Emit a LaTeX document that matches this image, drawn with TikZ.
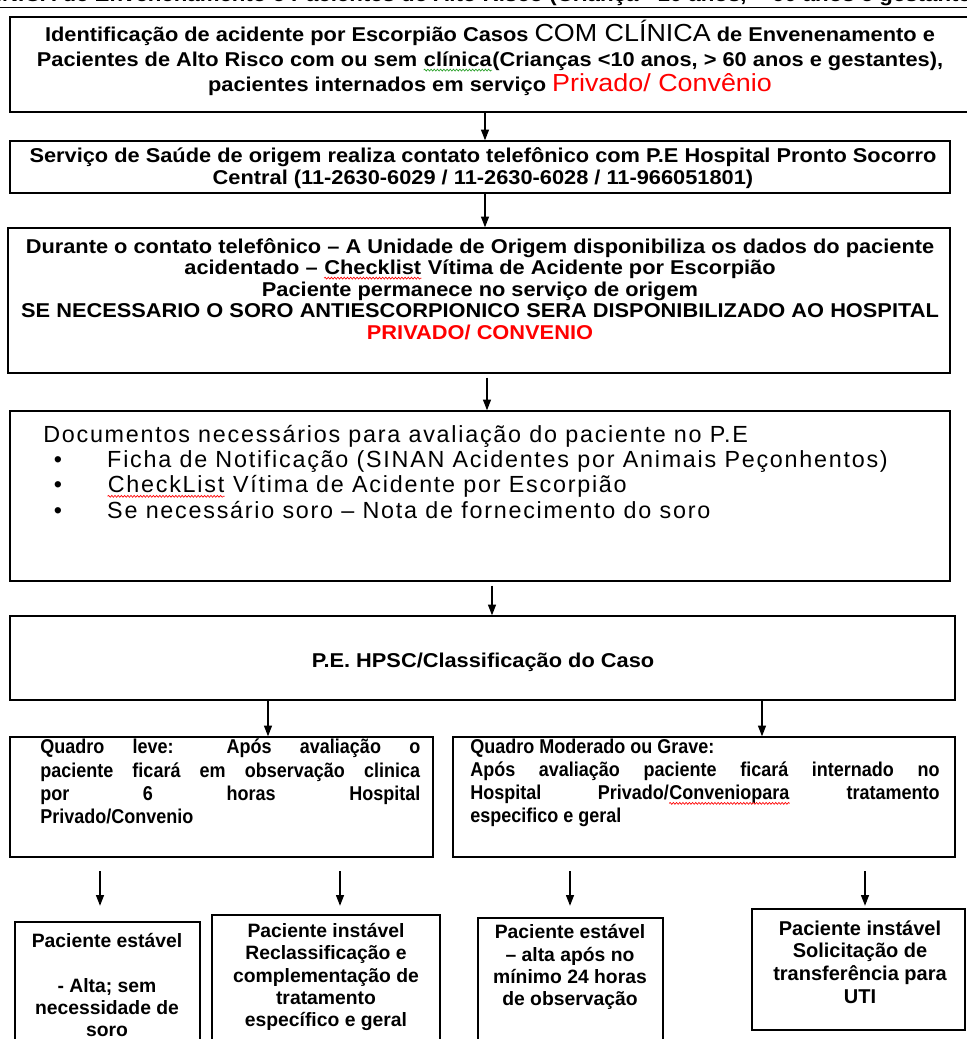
\documentclass[tikz,border=0pt]{standalone}
\usepackage{fontspec}
\setmainfont{Liberation Sans}
\newfontfamily\largafont[FakeStretch=1.09]{Liberation Sans}
\newfontfamily\estreitafont[FakeStretch=0.9]{Liberation Sans}
\newfontfamily\docfont[LetterSpace=7.5]{Liberation Sans}
\usetikzlibrary{positioning, fit, arrows.meta, decorations.pathmorphing}
\definecolor{alerta}{RGB}{255,0,0}
\definecolor{revisao}{RGB}{40,160,40}
\newcommand\onda[2]{\tikz[baseline=(w.base)]{%
  \node[inner sep=0pt, text width=, align=none] (w) {#2};
  \draw[#1, line width=0.5pt, decorate, decoration={snake, amplitude=0.7pt, segment length=2.4pt}]
    ([yshift=-2.6pt]w.base west) -- ([yshift=-2.6pt]w.base east);}}
\tikzset{
  box/.style={
    draw, line width=1.1pt,
    inner sep=0pt,
    fit={#1},
  },
  txt/.style={
    inner sep=0pt, align=center,
    font=\largafont\bfseries\fontsize{15}{16.5}\selectfont,
  },
  bloco/.style={
    inner sep=0pt, align=justify,
    text width=#1,
    font=\estreitafont\bfseries\fontsize{15}{17.3}\selectfont,
  },
  saida/.style={
    inner sep=0pt, align=center,
    font=\bfseries\fontsize{14.5}{16.6}\selectfont,
  },
  arr/.style={
    line width=0.9pt,
    -{Triangle[length=8pt, width=6pt]},
  },
}

\begin{document}
\begin{tikzpicture}[x=0.75pt, y=-0.75pt]
\useasboundingbox (0,0) rectangle (967,1039);
\clip (0,0) rectangle (967,1039);

\node[anchor=base west, font=\largafont\bfseries\fontsize{15.3}{16}\selectfont, inner sep=0pt] (titulo) at (-34, 1)
  {\underline{CLÍNICA de Envenenamento e Pacientes de Alto Risco (Criança <10 anos, > 60 anos e gestantes)}};

\node[box={(10,17)(985,112)}] (ident) {};
\node[box={(10,141)(950,193)}] (contato) {};
\node[box={(8,228)(950,373)}] (dados) {};
\node[box={(10,411)(950,581)}] (docs) {};
\node[box={(10,616)(955,700)}] (classe) {};
\node[box={(10,737)(433,857)}] (leve) {};
\node[box={(453,737)(955,857)}] (grave) {};
\node[box={(15,922)(200,1060)}] (s1) {};
\node[box={(212,915)(440,1060)}] (s2) {};
\node[box={(478,918)(663,1060)}] (s3) {};
\node[box={(752,909)(965,1030)}] (s4) {};

\node[txt, font=\largafont\bfseries\fontsize{15}{18.8}\selectfont] (t-ident) at (490, 58) {%
  Identificação de acidente por Escorpião Casos {\mdseries\fontsize{18.5}{18.8}\selectfont COM CLÍNICA} de Envenenamento e\\
  Pacientes de Alto Risco com ou sem \onda{revisao}{clínica}(Crianças <10 anos, > 60 anos e gestantes),\\
  pacientes internados em serviço {\mdseries\fontsize{18.5}{18.8}\selectfont\color{alerta}Privado/ Convênio}};
\node[txt] (t-contato) at (483, 168) {%
  Serviço de Saúde de origem realiza contato telefônico com P.E Hospital Pronto Socorro\\
  Central (11-2630-6029 / 11-2630-6028 / 11-966051801)};
\node[txt, font=\largafont\bfseries\fontsize{15}{16.2}\selectfont] (t-dados) at (480, 289) {%
  Durante o contato telefônico – A Unidade de Origem disponibiliza os dados do paciente\\
  acidentado – \onda{alerta}{Checklist} Vítima de Acidente por Escorpião\\
  Paciente permanece no serviço de origem\\
  SE NECESSARIO O SORO ANTIESCORPIONICO SERA DISPONIBILIZADO AO HOSPITAL\\
  {\color{alerta}PRIVADO/ CONVENIO}};
\node[inner sep=0pt, anchor=north west, align=left,
  font=\docfont\fontsize{17.5}{18.9}\selectfont] (t-docs) at (43, 425) {%
  Documentos necessários para avaliação do paciente no P.E\\
  \makebox[48pt][l]{\hspace{8pt}\textbullet}Ficha de Notificação (SINAN Acidentes por Animais Peçonhentos)\\
  \makebox[48pt][l]{\hspace{8pt}\textbullet}\onda{alerta}{CheckList} Vítima de Acidente por Escorpião\\
  \makebox[48pt][l]{\hspace{8pt}\textbullet}Se necessário soro – Nota de fornecimento do soro};
\node[txt] (t-classe) at (483, 662) {P.E. HPSC/Classificação do Caso};
\node[bloco=285pt, anchor=north west] (t-leve) at (40, 739) {%
  Quadro leve: Após avaliação o\linebreak
  paciente ficará em observação clinica\linebreak
  por 6 horas Hospital\linebreak
  Privado/Convenio};
\node[bloco=352pt, anchor=north west] (t-grave) at (470, 739) {%
  Quadro Moderado ou Grave:\\
  Após avaliação paciente ficará internado no\linebreak
  Hospital Privado/\onda{alerta}{Conveniopara} tratamento\linebreak
  especifico e geral};

\node[saida] (t-s1) at (107, 985) {Paciente estável\\[16.6pt]- Alta; sem\\necessidade de\\soro};
\node[saida] (t-s2) at (326, 977) {Paciente instável\\Reclassificação e\\complementação de\\tratamento\\específico e geral};
\node[saida] (t-s3) at (570, 967) {Paciente estável\\– alta após no\\mínimo 24 horas\\de observação};
\node[saida, font=\bfseries\fontsize{15}{17}\selectfont] (t-s4) at (860, 962) {Paciente instável\\Solicitação de\\transferência para\\UTI};

\draw[arr] (ident.south -| 485,0) -- (contato.north -| 485,0);
\draw[arr] (contato.south -| 485,0) -- (dados.north -| 485,0);
\draw[arr] ([yshift=-3pt]dados.south -| 487,0) -- (docs.north -| 487,0);
\draw[arr] ([yshift=-3pt]docs.south -| 492,0) -- (classe.north -| 492,0);
\draw[arr] (classe.south -| 268,0) -- (leve.north -| 268,0);
\draw[arr] (classe.south -| 762,0) -- (grave.north -| 762,0);
\foreach \bx/\src/\dst in {100/leve/s1, 340/leve/s2, 570/grave/s3, 865/grave/s4}
  \draw[arr] ([yshift=-10pt]\src.south -| \bx,0) -- ([yshift=-36pt]\src.south -| \bx,0);
\end{tikzpicture}
\end{document}
